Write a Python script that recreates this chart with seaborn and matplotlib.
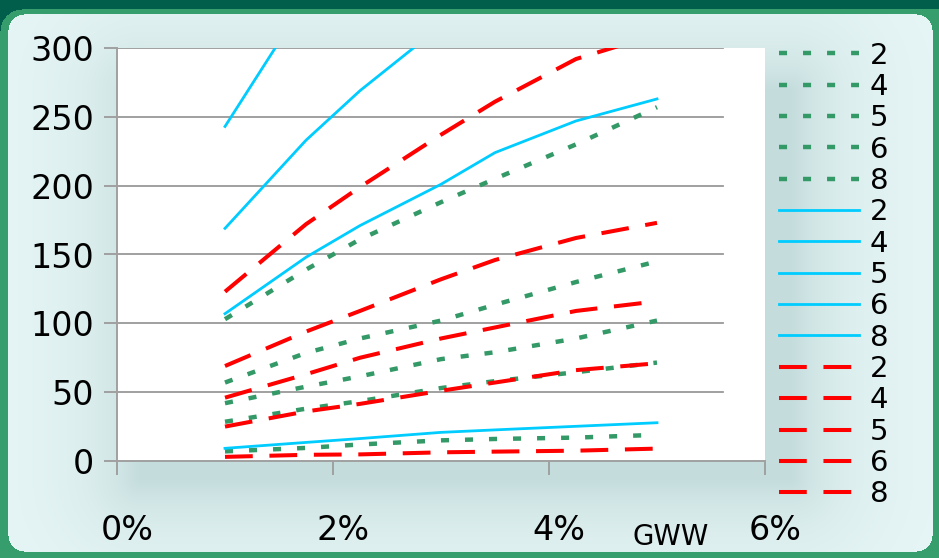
import numpy as np
import pandas as pd
import matplotlib
matplotlib.use("Agg")
import matplotlib.pyplot as plt
import matplotlib.transforms as mtransforms
import seaborn as sns

# GWW share (%) at which each curve is evaluated
gww = [1.0, 1.75, 2.25, 3.0, 3.5, 4.25, 5.0]
series_labels = ["2", "4", "5", "6", "8"]

# dotted green family
green_2 = [7, 9.5, 12, 15, 16, 17, 19]
green_4 = [28.5, 38, 43.5, 53, 58, 64.5, 71.5]
green_5 = [42, 54, 61.5, 74, 79, 89, 102]
green_6 = [57, 78.5, 89, 102, 113.5, 130, 145]
green_8 = [103, 139, 161, 188, 205, 230, 257]

# solid cyan family
cyan_2 = [9.2, 13.5, 16.3, 20.8, 22.6, 25.2, 27.8]
cyan_4 = [107, 148, 171, 201, 224, 247, 263]
cyan_5 = [169, 233, 269, 316, 340, 370, 395]
cyan_6 = [243, 335, 375, 420, 450, 490, 525]
cyan_8 = [330, 420, 470, 530, 565, 610, 650]

# dashed red family
red_2 = [3, 4.5, 4.8, 6.3, 6.8, 7.5, 9]
red_4 = [25, 36, 41.5, 51, 57, 66, 71]
red_5 = [46, 63, 75, 89, 97, 109, 116]
red_6 = [69, 94, 109, 132, 146, 162, 173]
red_8 = [123, 172, 199, 237, 261, 292, 310]

x_ticks = [0, 2, 4, 6]
x_tick_labels = ["0%", "2%", "4%", "6%"]
y_ticks = [0, 50, 100, 150, 200, 250, 300]
x_title = "GWW"

families = {
    "green": [green_2, green_4, green_5, green_6, green_8],
    "cyan": [cyan_2, cyan_4, cyan_5, cyan_6, cyan_8],
    "red": [red_2, red_4, red_5, red_6, red_8],
}

rows = []
for fam, values in families.items():
    for lab, vals in zip(series_labels, values):
        for xv, yv in zip(gww, vals):
            rows.append({"family": fam, "label": lab, "gww": xv, "value": yv})
df = pd.DataFrame(rows)

styles = {
    "green": dict(color="#339966", linewidth=3.2, linestyle=(0, (5.8, 11.5))),
    "cyan": dict(color="#00CCFF", linewidth=2.0, linestyle="-"),
    "red": dict(color="#FF0000", linewidth=2.9, linestyle=(0, (20, 12))),
}

plt.rcParams["lines.scale_dashes"] = False
plt.rcParams["font.family"] = ["DejaVu Sans"]

W, H = 939, 558
fig = plt.figure(figsize=(W / 100, H / 100), dpi=100)

# ---- slide-style background: dark band, green frame, pale panel with soft shadow
yy, xx = np.mgrid[0:H, 0:W].astype(float)


def rounded_mask(x0, y0, x1, y1, r):
    cx = np.clip(xx, x0 + r, x1 - r)
    cy = np.clip(yy, y0 + r, y1 - r)
    inside = (xx >= x0) & (xx <= x1) & (yy >= y0) & (yy <= y1)
    return inside & ((xx - cx) ** 2 + (yy - cy) ** 2 <= r ** 2)


img = np.empty((H, W, 3))
img[:] = np.array([0, 94, 74]) / 255
frame = rounded_mask(0, 9, W + 30, H + 30, 22)
img[frame] = np.array([54, 158, 108]) / 255
panel = rounded_mask(8, 14, 932, 551, 16)

sx0, sx1, sy0, sy1 = 140, 790, 90, 478
dx = np.maximum(np.maximum(sx0 - xx, xx - sx1), 0)
dy = np.maximum(np.maximum(sy0 - yy, yy - sy1), 0)
d = np.hypot(dx, dy)
shade = np.exp(-d / 50.0)
light = np.array([231, 246, 246]) / 255
dark = np.array([196, 220, 220]) / 255
panel_col = light[None, None, :] + (dark - light)[None, None, :] * shade[..., None]
img[panel] = panel_col[panel]

bg = fig.add_axes([0, 0, 1, 1], zorder=-10)
bg.imshow(img, aspect="auto", extent=[0, W, H, 0], interpolation="bilinear")
bg.axis("off")

# ---- plot area
ax = fig.add_axes([117 / W, (H - 461) / H, 648 / W, 413 / H])
ax.set_facecolor("white")

grid_end = (723 - 117) / 648
for yv in y_ticks[1:]:
    ax.axhline(yv, xmin=0, xmax=grid_end, color="#999999", linewidth=1.3, zorder=0.5)

handles = []
for fam in ["green", "cyan", "red"]:
    for lab in series_labels:
        sub = df[(df["family"] == fam) & (df["label"] == lab)]
        sns.lineplot(data=sub, x="gww", y="value", ax=ax, legend=False, **styles[fam])
        handles.append(ax.lines[-1])

ax.set_xlim(0, 6)
ax.set_ylim(0, 300)
ax.set_xticks(x_ticks)
ax.set_xticklabels(x_tick_labels)
ax.set_yticks(y_ticks)
ax.set_yticklabels([str(v) for v in y_ticks])
ax.set_xlabel("")
ax.set_ylabel("")

for side in ["top", "right"]:
    ax.spines[side].set_visible(False)
for side in ["left", "bottom"]:
    ax.spines[side].set_color("#a0a0a0")
    ax.spines[side].set_linewidth(1.4)

ax.tick_params(axis="y", direction="out", length=9.5, width=1.4, color="#a0a0a0",
               pad=7, labelsize=24, labelcolor="black")
ax.tick_params(axis="x", direction="out", length=10, width=1.4, color="#a0a0a0",
               pad=28, labelsize=24, labelcolor="black")

shift = mtransforms.ScaledTranslation(10 / 100, 0, fig.dpi_scale_trans)
for lbl in ax.xaxis.get_majorticklabels():
    lbl.set_transform(lbl.get_transform() + shift)

fig.text(671 / W, 1 - 537 / H, x_title, ha="center", va="center", fontsize=20)

legend_labels = series_labels * 3
fig.legend(handles, legend_labels, loc="center left",
           bbox_to_anchor=(779 / W, 1 - 275 / H), frameon=False, fontsize=21,
           handlelength=2.74, handletextpad=0.38, labelspacing=0.115,
           borderpad=0, borderaxespad=0)

fig.savefig("out.png", dpi=100)
